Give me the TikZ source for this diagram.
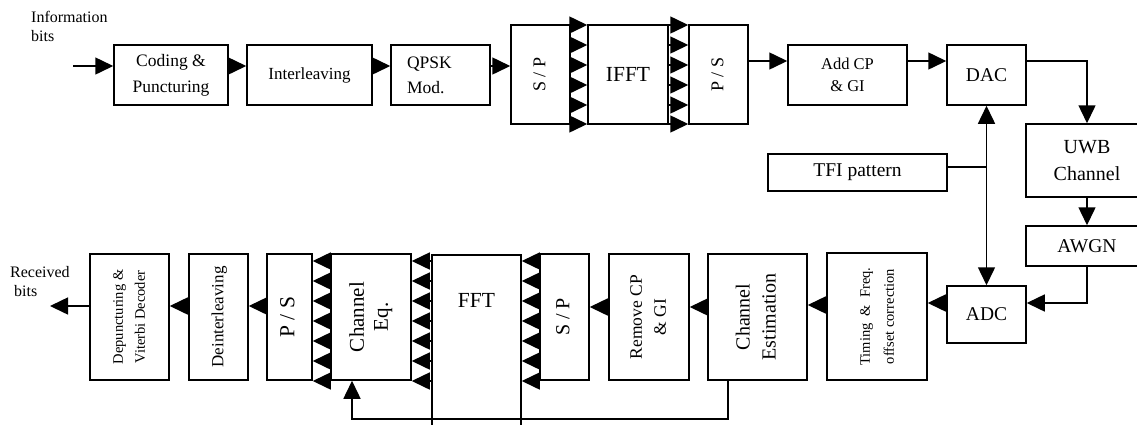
\documentclass[tikz,border=0pt]{standalone}
\usepackage{fontspec}
\setmainfont{Liberation Serif}
\usepackage{graphicx}
\usetikzlibrary{arrows.meta}
\newcommand{\rtext}[1]{\rotatebox{90}{\begin{tabular}{@{}c@{}}#1\end{tabular}}}
\begin{document}
\begin{tikzpicture}[x=1pt,y=-1pt,
  box/.style={draw, line width=1.5pt, inner sep=0pt, align=center},
  fsz/.style 2 args={font=\fontsize{#1}{#2}\selectfont},
  conn/.style={line width=1.5pt},
  arr/.style={conn, -{Triangle[length=18pt,width=17pt]}},
  darr/.style={conn, {Triangle[length=18pt,width=17pt]}-{Triangle[length=18pt,width=17pt]}},
  lbl/.style={inner sep=0pt, anchor=north west, align=left}
]
\useasboundingbox (0,0) rectangle (1137,424);
\clip (0,0) rectangle (1137,424);

% top row
\node[box, minimum width=114pt, minimum height=60pt, fsz={17.5}{26}] (coding) at (171,75) {Coding \&\\Puncturing};
\node[box, minimum width=125pt, minimum height=60pt, fsz={17}{24}] (inter) at (309.5,75) {Interleaving};
\node[box, minimum width=99pt, minimum height=60pt, fsz={17.5}{25}, text width=67pt, align=left] (qpsk) at (440.5,75) {QPSK\\Mod.};
\node[box, minimum width=59pt, minimum height=99pt, fsz={18}{24}] (sp1) at (540.5,74.5) {\rtext{S / P}};
\node[box, minimum width=80pt, minimum height=99pt, fsz={21.5}{24}] (ifft) at (628,74.5) {IFFT};
\node[box, minimum width=59pt, minimum height=99pt, fsz={18}{24}] (ps1) at (718.5,74.5) {\rtext{P / S}};
\node[box, minimum width=119pt, minimum height=60pt, fsz={16.5}{22}] (addcp) at (847.5,75) {Add CP\\\& GI};
\node[box, minimum width=79pt, minimum height=60pt, fsz={19.5}{24}] (dac) at (986.5,75) {DAC};
\node[box, minimum width=179pt, minimum height=37pt, fsz={19.5}{24}] (tfi) at (857.5,172.5) {TFI pattern};
\node[box, minimum width=122pt, minimum height=73pt, fsz={20}{27}] (uwb) at (1087,160.5) {UWB\\Channel};
\node[box, minimum width=122pt, minimum height=40pt, fsz={19.5}{24}] (awgn) at (1087,246) {AWGN};

% bottom row
\node[box, minimum width=79pt, minimum height=57pt, fsz={19.5}{24}] (adc) at (986.5,314.5) {ADC};
\node[box, minimum width=100pt, minimum height=127pt, fsz={14.5}{24}] (timing) at (877,316.5) {\rtext{Timing \ \& \ Freq.\\offset correction}};
\node[box, minimum width=99pt, minimum height=126pt, fsz={20}{26}] (chest) at (757.5,317) {\rtext{Channel\\Estimation}};
\node[box, minimum width=80pt, minimum height=126pt, fsz={17.5}{24}] (remcp) at (649,317) {\rtext{Remove CP\\\& GI}};
\node[box, minimum width=49pt, minimum height=126pt, fsz={20}{24}] (sp2) at (564.5,317) {\rtext{S / P}};
\node[box, minimum width=89pt, minimum height=200pt, anchor=north] (fft) at (476.5,254) {};
\node[inner sep=0pt, fsz={21.5}{24}] (fftlabel) at (476.5,300) {FFT};
\node[box, minimum width=80pt, minimum height=126pt, fsz={21}{24}] (cheq) at (371,317) {\rtext{Channel\\Eq.}};
\node[box, minimum width=45pt, minimum height=126pt, fsz={21.5}{24}] (ps2) at (289.5,317) {\rtext{P / S}};
\node[box, minimum width=59pt, minimum height=126pt, fsz={17}{24}] (deint) at (218.5,317) {\rtext{Deinterleaving}};
\node[box, minimum width=79pt, minimum height=126pt, fsz={14.5}{22}] (depunc) at (129.5,317) {\rtext{Depuncturing \&\\Viterbi Decoder}};

% labels
\node[lbl, fsz={16}{19}] (info) at (31,11) {Information\\bits};
\node[lbl, fsz={16}{19}] (recv) at (10,266) {Received\\\hspace*{4pt}bits};

% transmitter connectors
\coordinate (yA) at (0,66);
\coordinate (inp) at (73,66);
\draw[arr] (inp) -- (coding.west |- yA);
\draw[arr] (coding.east |- yA) -- (inter.west |- yA);
\draw[arr] (inter.east |- yA) -- (qpsk.west |- yA);
\draw[arr] (qpsk.east |- yA) -- (sp1.west |- yA);
\foreach \yy in {25,45,65,85,105,124} {
  \draw[arr] (sp1.east |- 0,\yy) -- (ifft.west |- 0,\yy);
  \draw[arr] (ifft.east |- 0,\yy) -- (ps1.west |- 0,\yy);
}
\coordinate (yB) at (0,61);
\draw[arr] (ps1.east |- yB) -- (addcp.west |- yB);
\draw[arr] (addcp.east |- yB) -- (dac.west |- yB);
\draw[arr] (dac.east |- yB) -| (uwb.north);
\draw[darr] (dac.south) -- (adc.north);
\coordinate (yT) at (0,167);
\draw[conn] (tfi.east |- yT) -- (dac.south |- yT);
\draw[arr] (uwb.south) -- (awgn.north);

% receiver connectors
\coordinate (yR) at (0,303);
\draw[arr] (awgn.south) |- (adc.east |- yR);
\draw[arr] (adc.west |- yR) -- (timing.east |- yR);
\coordinate (yC) at (0,305);
\draw[arr] (timing.west |- yC) -- (chest.east |- yC);
\coordinate (yD) at (0,307);
\draw[arr] (chest.west |- yD) -- (remcp.east |- yD);
\draw[arr] (remcp.west |- yD) -- (sp2.east |- yD);
\foreach \yy in {261,281,301,321,341,361,381} {
  \draw[arr] (sp2.west |- 0,\yy) -- (fft.east |- 0,\yy);
  \draw[arr] (fft.west |- 0,\yy) -- (cheq.east |- 0,\yy);
  \draw[arr] (cheq.west |- 0,\yy) -- (ps2.east |- 0,\yy);
}
\coordinate (yE) at (0,306);
\draw[arr] (ps2.west |- yE) -- (deint.east |- yE);
\draw[arr] (deint.west |- yE) -- (depunc.east |- yE);
\coordinate (outp) at (50,306);
\draw[arr] (depunc.west |- yE) -- (outp);
\coordinate (fbR) at (728,419);
\coordinate (fbL) at (352,419);
\draw[arr] (chest.south -| fbR) -- (fbR) -- (fbL) -- (cheq.south -| fbL);
\end{tikzpicture}
\end{document}
